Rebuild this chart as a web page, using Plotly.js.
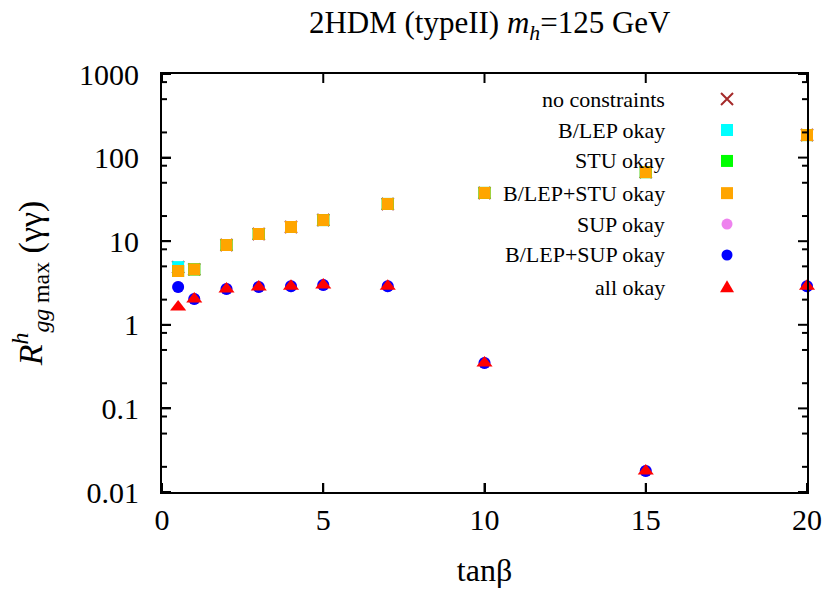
<!DOCTYPE html>
<html>
<head>
<meta charset="utf-8">
<script src="https://cdn.plot.ly/plotly-3.0.1.min.js"></script>
<style>html,body{margin:0;padding:0;background:#fff;}#chart{width:830px;height:590px;}</style>
</head>
<body>
<div id="chart"></div>
<script>
// tan(beta) values
var tanb = [0.5, 1, 2, 3, 4, 5, 7, 10, 15, 20];
// series (R^h_gg max (gamma gamma))
var noConstraints = [4.9, 4.6, 9.0, 12.2, 14.8, 17.9, 27.9, 37.8, 67, 186];
var blepOkay      = [4.9, 4.6, 9.0, 12.2, 14.8, 17.9, 27.9, 37.8, 67, 186];
var stuOkay       = [4.4, 4.6, 9.0, 12.2, 14.8, 17.9, 27.9, 37.8, 67, 186];
var blepStuOkay   = [4.4, 4.6, 9.0, 12.2, 14.8, 17.9, 27.9, 37.8, 67, 186];
var supOkay       = [2.83, 2.04, 2.68, 2.83, 2.9, 2.99, 2.9, 0.349, 0.0178, 2.9];
var blepSupOkay   = [2.83, 2.04, 2.68, 2.83, 2.9, 2.99, 2.9, 0.349, 0.0178, 2.9];
var allOkay       = [1.63, 2.04, 2.68, 2.83, 2.9, 2.99, 2.9, 0.349, 0.0178, 2.9];

var seriesNames = ["no constraints", "B/LEP okay", "STU okay", "B/LEP+STU okay", "SUP okay", "B/LEP+SUP okay", "all okay"];
var seriesData = [noConstraints, blepOkay, stuOkay, blepStuOkay, supOkay, blepSupOkay, allOkay];
var seriesColors = ["#a52a2a", "#00ffff", "#00ff00", "#ffa500", "#ee82ee", "#0000ff", "#ff0000"];
var seriesSymbols = ["x-thin-open", "square", "square", "square", "circle", "circle", "triangle-up"];
var seriesSizes = [12, 12, 12, 12, 12, 12, 14];

var xTickVals = [0, 5, 10, 15, 20];
var yTickVals = [0.01, 0.1, 1, 10, 100, 1000];
var yTickText = ["0.01", "0.1", "1", "10", "100", "1000"];
var yMinorVals = [0.02, 0.05, 0.08, 0.2, 0.5, 0.8, 2, 5, 8, 20, 50, 80, 200, 500, 800];
var yLogRange = [-2, 3];

var FONT = "Liberation Serif, DejaVu Serif, Times, serif";
var NB = "\u00a0\u00a0";

var traces = [];
for (var i = 0; i < seriesNames.length; i++) {
  traces.push({
    x: tanb, y: seriesData[i], type: "scatter", mode: "markers", name: seriesNames[i],
    showlegend: false, cliponaxis: false,
    marker: {symbol: seriesSymbols[i], size: seriesSizes[i], color: seriesColors[i],
             line: {width: seriesSymbols[i] === "x-thin-open" ? 2 : 0, color: seriesColors[i]}}
  });
}

// custom legend: text on the left, symbol on the right (gnuplot style)
var legX = 0.876;
var legY = [0.940, 0.866, 0.792, 0.715, 0.641, 0.567, 0.490];
var annotations = [];
var shapes = [];
for (var j = 0; j < seriesNames.length; j++) {
  annotations.push({
    text: seriesNames[j], xref: "paper", yref: "paper", x: 0.783, y: legY[j],
    xanchor: "right", yanchor: "middle", showarrow: false,
    font: {family: FONT, size: 22, color: "#000"}
  });
  var base = {xref: "paper", yref: "paper", xsizemode: "pixel", ysizemode: "pixel",
              xanchor: legX, yanchor: legY[j], layer: "above"};
  var s;
  var sym = seriesSymbols[j], col = seriesColors[j];
  if (sym === "square") {
    s = Object.assign({type: "rect", x0: -6, x1: 6, y0: -6, y1: 6, fillcolor: col, line: {width: 0}}, base);
  } else if (sym === "circle") {
    s = Object.assign({type: "circle", x0: -5.5, x1: 5.5, y0: -5.5, y1: 5.5, fillcolor: col, line: {width: 0}}, base);
  } else if (sym === "triangle-up") {
    s = Object.assign({type: "path", path: "M-7,-5 L7,-5 L0,7 Z", fillcolor: col, line: {width: 0}}, base);
  } else {
    s = Object.assign({type: "path", path: "M-6,-6 L6,6 M-6,6 L6,-6", line: {width: 2, color: col}}, base);
  }
  shapes.push(s);
}

// inward tick marks on all four sides of the frame (gnuplot style)
var tickLine = {color: "#000", width: 2};
xTickVals.forEach(function (v) {
  [[0, 9], [1, -9]].forEach(function (p) {
    shapes.push({type: "line", xref: "x", yref: "paper", ysizemode: "pixel", yanchor: p[0],
                 x0: v, x1: v, y0: 0, y1: p[1], line: tickLine, layer: "above"});
  });
});
function yFrac(v) { return (Math.log10(v) - yLogRange[0]) / (yLogRange[1] - yLogRange[0]); }
function addYTicks(vals, len) {
  vals.forEach(function (v) {
    var f = yFrac(v);
    [[0, len], [1, -len]].forEach(function (p) {
      shapes.push({type: "line", xref: "paper", yref: "paper", xsizemode: "pixel", xanchor: p[0],
                   x0: 0, x1: p[1], y0: f, y1: f, line: tickLine, layer: "above"});
    });
  });
}
addYTicks(yTickVals, 9);
addYTicks(yMinorVals, 5);

var layout = {
  width: 830, height: 590,
  margin: {l: 162, r: 23, t: 74, b: 98},
  paper_bgcolor: "#ffffff", plot_bgcolor: "#ffffff",
  font: {family: FONT, color: "#000"},
  showlegend: false,
  title: {text: "2HDM (typeII) <i>m</i><sub><i>h</i></sub>=125 GeV", x: 0.59, xanchor: "center", y: 0.962, yanchor: "middle",
          font: {family: FONT, size: 31, color: "#000"}},
  xaxis: {
    range: [0, 20], tickmode: "array", tickvals: xTickVals, ticktext: xTickVals.map(String),
    ticks: "inside", ticklen: 9, tickwidth: 2, tickcolor: "#000",
    showline: true, linecolor: "#000", linewidth: 2, mirror: true,
    showgrid: false, zeroline: false,
    tickfont: {family: FONT, size: 30, color: "#000"},
    title: {text: "tanβ", font: {family: FONT, size: 32, color: "#000"}, standoff: 24}
  },
  yaxis: {
    type: "log", range: yLogRange, tickmode: "array", tickvals: yTickVals, ticktext: yTickText.map(function(t){return t + NB;}),
    ticks: "inside", ticklen: 9, tickwidth: 2, tickcolor: "#000",
    showline: true, linecolor: "#000", linewidth: 2, mirror: true,
    showgrid: false, zeroline: false,
    tickfont: {family: FONT, size: 30, color: "#000"},
    title: {text: "<i>R</i><sup><i>h</i></sup><sub><i>gg</i> max</sub> (γγ)", font: {family: FONT, size: 34, color: "#000"}, standoff: 26}
  },
  annotations: annotations,
  shapes: shapes
};

Plotly.newPlot("chart", traces, layout, {displayModeBar: false, staticPlot: true});
</script>
</body>
</html>
